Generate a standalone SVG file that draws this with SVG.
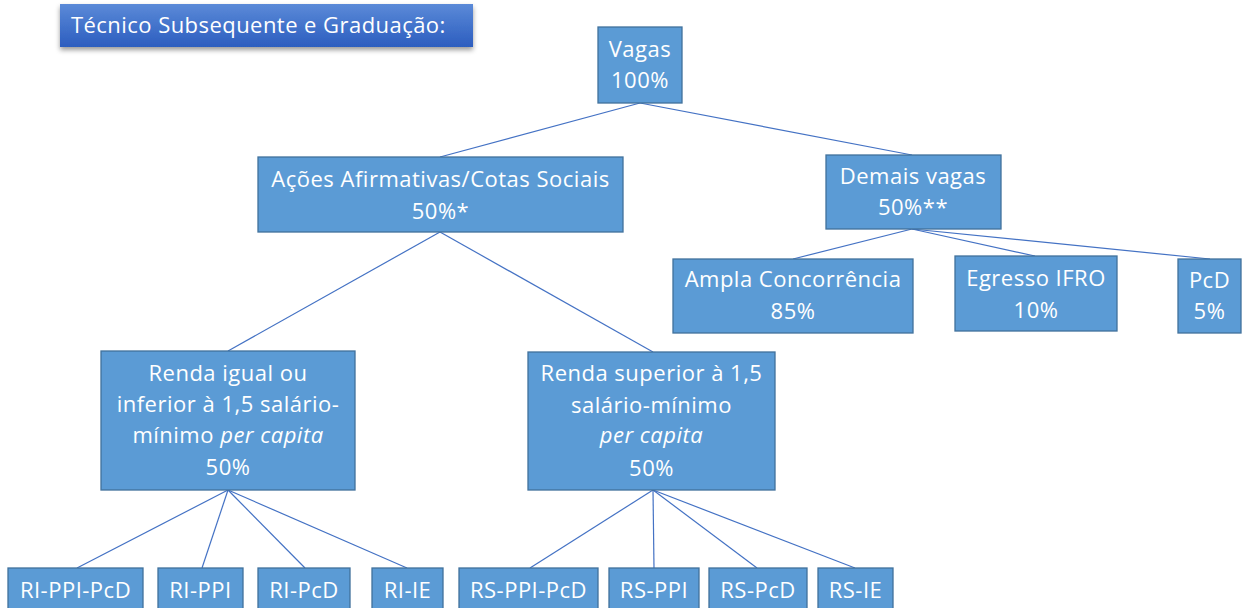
<svg xmlns="http://www.w3.org/2000/svg" width="1244" height="608" viewBox="0 0 1244 608">
<defs>
<linearGradient id="tg" x1="0" y1="0" x2="0" y2="1">
<stop offset="0" stop-color="#5b8ad8"/>
<stop offset="1" stop-color="#2c5dbf"/>
</linearGradient>
<filter id="sh" x="-5%" y="-20%" width="110%" height="150%">
<feDropShadow dx="0" dy="3" stdDeviation="2.5" flood-color="#000" flood-opacity="0.4"/>
</filter>
</defs>
<style>
.box{fill:#5b9bd5;stroke:#41719c;stroke-width:1.3}
text{font-family:"Open Sans","Noto Sans",sans-serif;font-size:22px;letter-spacing:0.5px;fill:#fff;text-anchor:middle}
.title{text-anchor:start;font-size:22px;letter-spacing:0.45px}
.it{font-style:italic}
.con line{stroke:#4472c4;stroke-width:1.2}
</style>
<rect width="1244" height="608" fill="#fff"/>
<g id="title">
<rect x="60" y="4" width="413" height="43" fill="url(#tg)" filter="url(#sh)"/>
<text class="title" x="71" y="33">Técnico Subsequente e Graduação:</text>
</g>
<g class="con" id="connectors">
<line x1="640" y1="103" x2="440" y2="157"/>
<line x1="640" y1="103" x2="912" y2="155"/>
<line x1="440" y1="232" x2="228" y2="351"/>
<line x1="440" y1="232" x2="653" y2="352"/>
<line x1="912" y1="229" x2="793" y2="259"/>
<line x1="912" y1="229" x2="1035" y2="256"/>
<line x1="912" y1="229" x2="1210" y2="259"/>
<line x1="228" y1="490" x2="77" y2="568"/>
<line x1="228" y1="490" x2="202" y2="568"/>
<line x1="228" y1="490" x2="305" y2="568"/>
<line x1="228" y1="490" x2="407" y2="568"/>
<line x1="653" y1="490" x2="530" y2="568"/>
<line x1="653" y1="490" x2="654" y2="568"/>
<line x1="653" y1="490" x2="757" y2="568"/>
<line x1="653" y1="490" x2="855" y2="568"/>
</g>
<g id="vagas">
<rect class="box" x="598" y="27" width="84" height="76"/>
<text x="640" y="57">Vagas</text>
<text x="640" y="88">100%</text>
</g>
<g id="acoes">
<rect class="box" x="258" y="157" width="365" height="75"/>
<text x="440.500" y="187">Ações Afirmativas/Cotas Sociais</text>
<text x="440.500" y="219">50%*</text>
</g>
<g id="demais">
<rect class="box" x="826" y="155" width="175" height="74"/>
<text x="913" y="184">Demais vagas</text>
<text x="913" y="215">50%**</text>
</g>
<g id="ampla">
<rect class="box" x="673" y="259" width="240" height="74"/>
<text x="793" y="287">Ampla Concorrência</text>
<text x="793" y="319">85%</text>
</g>
<g id="egresso">
<rect class="box" x="955" y="256" width="162" height="75"/>
<text x="1036" y="286">Egresso IFRO</text>
<text x="1036" y="318">10%</text>
</g>
<g id="pcd">
<rect class="box" x="1178" y="259" width="63" height="74"/>
<text x="1209.500" y="288">PcD</text>
<text x="1209.500" y="319">5%</text>
</g>
<g id="renda-igual">
<rect class="box" x="101" y="351" width="254" height="139"/>
<text x="228" y="381">Renda igual ou</text>
<text x="228" y="412">inferior à 1,5 salário-</text>
<text x="228" y="443">mínimo <tspan class="it">per capita</tspan></text>
<text x="228" y="475">50%</text>
</g>
<g id="renda-superior">
<rect class="box" x="528" y="352" width="247" height="138"/>
<text x="651.500" y="381">Renda superior à 1,5</text>
<text x="651.500" y="413">salário-mínimo</text>
<text x="651.500" y="443" class="it">per capita</text>
<text x="651.500" y="476">50%</text>
</g>
<g id="ri-ppi-pcd"><rect class="box" x="8" y="568" width="135" height="50"/><text x="75.500" y="598">RI-PPI-PcD</text></g>
<g id="ri-ppi"><rect class="box" x="158" y="568" width="85" height="50"/><text x="200.500" y="598">RI-PPI</text></g>
<g id="ri-pcd"><rect class="box" x="258" y="568" width="92" height="50"/><text x="304" y="598">RI-PcD</text></g>
<g id="ri-ie"><rect class="box" x="372" y="568" width="71" height="50"/><text x="407.500" y="598">RI-IE</text></g>
<g id="rs-ppi-pcd"><rect class="box" x="459" y="568" width="139" height="50"/><text x="528.500" y="598">RS-PPI-PcD</text></g>
<g id="rs-ppi"><rect class="box" x="609" y="568" width="90" height="50"/><text x="654" y="598">RS-PPI</text></g>
<g id="rs-pcd"><rect class="box" x="709" y="568" width="98" height="50"/><text x="758" y="598">RS-PcD</text></g>
<g id="rs-ie"><rect class="box" x="818" y="568" width="75" height="50"/><text x="855.500" y="598">RS-IE</text></g>
</svg>
